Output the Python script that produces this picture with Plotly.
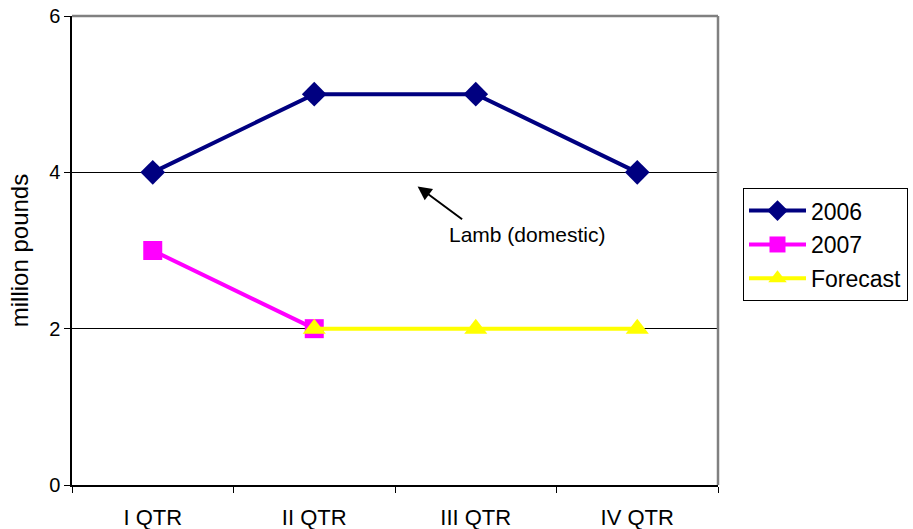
import plotly.graph_objects as go

quarters = ["I QTR", "II QTR", "III QTR", "IV QTR"]
y2006 = [4, 5, 5, 4]
y2007 = [3, 2, None, None]
yforecast = [None, 2, 2, 2]
yticks = [0, 2, 4, 6]

font = "Liberation Sans, Arial, sans-serif"

fig = go.Figure()
fig.add_trace(go.Scatter(x=quarters, y=y2006, name="2006", mode="lines+markers",
                         legendgroup="a",
                         line=dict(color="#000080", width=4),
                         marker=dict(symbol="diamond", size=19, color="#000080")))
fig.add_trace(go.Scatter(x=quarters, y=y2007, name="2007", mode="lines+markers",
                         legendgroup="b",
                         line=dict(color="#FF00FF", width=4),
                         marker=dict(symbol="square", size=19, color="#FF00FF")))
fig.add_trace(go.Scatter(x=quarters, y=yforecast, name="Forecast", mode="lines+markers",
                         legendgroup="c",
                         line=dict(color="#FFFF00", width=4),
                         marker=dict(symbol="triangle-up", size=20, color="#FFFF00")))

fig.update_layout(
    width=913, height=529,
    margin=dict(l=72, r=195, t=16, b=44, autoexpand=False),
    paper_bgcolor="white", plot_bgcolor="white",
    font=dict(family=font, size=20, color="black"),
    showlegend=True,
    legend=dict(x=1.0387, y=0.633, xanchor="left", yanchor="top",
                bordercolor="black", borderwidth=1, bgcolor="white",
                font=dict(size=23), traceorder="grouped", tracegroupgap=1,
                itemwidth=57),
    xaxis=dict(type="category", tickson="boundaries", ticks="outside", ticklen=6,
               tickcolor="black", showline=True, linecolor="black", linewidth=1.5,
               showgrid=False, tickfont=dict(size=22), range=[-0.5, 3.5],
               automargin=False, ticklabelstandoff=12, ticklabeloverflow="allow"),
    yaxis=dict(range=[0, 6], tickvals=yticks, ticks="outside", ticklen=6,
               tickcolor="black", showline=True, linecolor="black", linewidth=1.5,
               showgrid=True, gridcolor="black", gridwidth=1, zeroline=False,
               tickfont=dict(size=20), automargin=False, ticklabelstandoff=0,
               ticklabeloverflow="allow",
               title=dict(text="million pounds", font=dict(size=24), standoff=14)),
)

# gray top and right plot border
fig.add_shape(type="line", xref="paper", yref="paper", x0=0, x1=1, y0=1, y1=1,
              line=dict(color="#808080", width=2.5), layer="above")
fig.add_shape(type="line", xref="paper", yref="paper", x0=1, x1=1, y0=0, y1=1,
              line=dict(color="#808080", width=2.5), layer="above")

fig.add_annotation(x=1.64, y=3.82, ax=46, ay=34, xref="x", yref="y",
                   text="", showarrow=True, arrowhead=2, arrowsize=1.4,
                   arrowwidth=2, arrowcolor="black")
fig.add_annotation(x=2.317, y=3.2, xref="x", yref="y", text="Lamb (domestic)",
                   showarrow=False, font=dict(size=21))

fig.write_html("out.html", config={"displayModeBar": False},
               post_script="document.body.style.margin='0';")
